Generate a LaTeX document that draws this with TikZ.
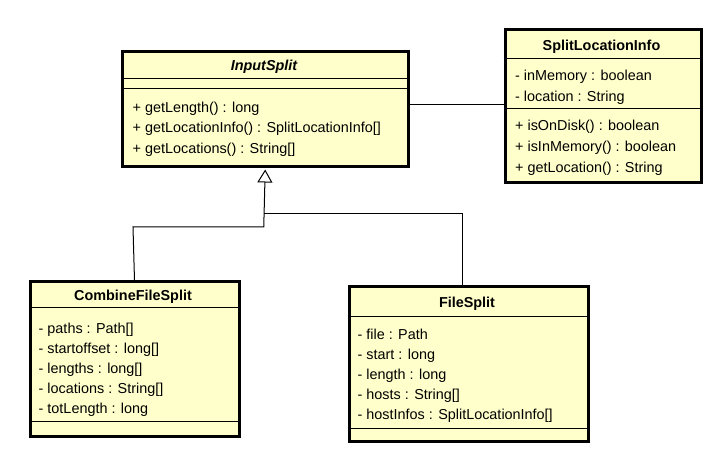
\documentclass[tikz,border=0pt]{standalone}
\usepackage{fontspec}
\setmainfont{Liberation Sans}
\usetikzlibrary{arrows.meta,calc}
\definecolor{classfill}{HTML}{FFFFCC}
\tikzset{
  classbox/.style={draw=black, fill=classfill, line width=3pt, rectangle, inner sep=0pt, anchor=north west},
  sepline/.style={line width=1pt},
  conn/.style={line width=1pt},
  gen/.style={conn, shorten >=1.5pt, -{Triangle[open, length=13pt, width=15pt, line width=1pt]}},
  txt/.style={anchor=base west, inner sep=0pt, font=\fontsize{14.4}{17}\selectfont},
  ttl/.style={anchor=base, inner sep=0pt, font=\fontsize{14.4}{17}\selectfont\bfseries},
}
\begin{document}
\begin{tikzpicture}[x=1pt,y=-1pt]
\useasboundingbox (0,0) rectangle (713,470);
% InputSplit
\node[classbox, minimum width=286.5pt, minimum height=115pt] (inputsplit) at (120.5,50) {};
\draw[sepline] (120.5,79) -- (407,79);
\draw[sepline] (120.5,89) -- (407,89);
\node[ttl] (isT) at (264,70.5) {\itshape InputSplit};
\node[txt] (is1) at (132.5,112.5) {+ getLength() : long};
\node[txt] (is2) at (132.5,133) {+ getLocationInfo() : SplitLocationInfo[]};
\node[txt] (is3) at (132.5,153.5) {+ getLocations() : String[]};
% SplitLocationInfo
\node[classbox, minimum width=196pt, minimum height=153pt] (sli) at (503.5,28.5) {};
\draw[sepline] (503.5,59) -- (699.5,59);
\draw[sepline] (503.5,109) -- (699.5,109);
\node[ttl] (sliT) at (601.5,50.5) {SplitLocationInfo};
\node[txt] (sli1) at (515,81) {- inMemory : boolean};
\node[txt] (sli2) at (515,102) {- location : String};
\node[txt] (sli3) at (515,131) {+ isOnDisk() : boolean};
\node[txt] (sli4) at (515,152) {+ isInMemory() : boolean};
\node[txt] (sli5) at (515,172.5) {+ getLocation() : String};
% CombineFileSplit
\node[classbox, minimum width=209pt, minimum height=155pt] (combine) at (28.5,280.5) {};
\draw[sepline] (28.5,308) -- (237.5,308);
\draw[sepline] (28.5,422) -- (237.5,422);
\node[ttl] (cT) at (133,301) {CombineFileSplit};
\node[txt] (c1) at (38.5,333.5) {- paths : Path[]};
\node[txt] (c2) at (38.5,353.5) {- startoffset : long[]};
\node[txt] (c3) at (38.5,373.5) {- lengths : long[]};
\node[txt] (c4) at (38.5,393.5) {- locations : String[]};
\node[txt] (c5) at (38.5,413.5) {- totLength : long};
% FileSplit
\node[classbox, minimum width=239pt, minimum height=155pt] (filesplit) at (347.5,285.5) {};
\draw[sepline] (347.5,317) -- (586.5,317);
\draw[sepline] (347.5,429) -- (586.5,429);
\node[ttl] (fT) at (467,307.5) {FileSplit};
\node[txt] (f1) at (357.5,339.5) {- file : Path};
\node[txt] (f2) at (357.5,359.5) {- start : long};
\node[txt] (f3) at (357.5,379.5) {- length : long};
\node[txt] (f4) at (357.5,399.5) {- hosts : String[]};
\node[txt] (f5) at (357.5,419.5) {- hostInfos : SplitLocationInfo[]};
% connectors
\coordinate (assocA) at (407,105);
\coordinate (assocB) at (503.5,105);
\draw[conn] (assocA) -- (assocB);
\coordinate (cbend) at (133,227);
\coordinate (gbend) at (263.75,227);
\draw[gen] (combine.north) -- (cbend) -- (gbend) -- (inputsplit.south);
\coordinate (ftop) at (462,285.5);
\coordinate (fbend) at (462,214);
\coordinate (fjoin) at (263.75,214);
\draw[conn] (ftop) -- (fbend) -- (fjoin);
\end{tikzpicture}
\end{document}
